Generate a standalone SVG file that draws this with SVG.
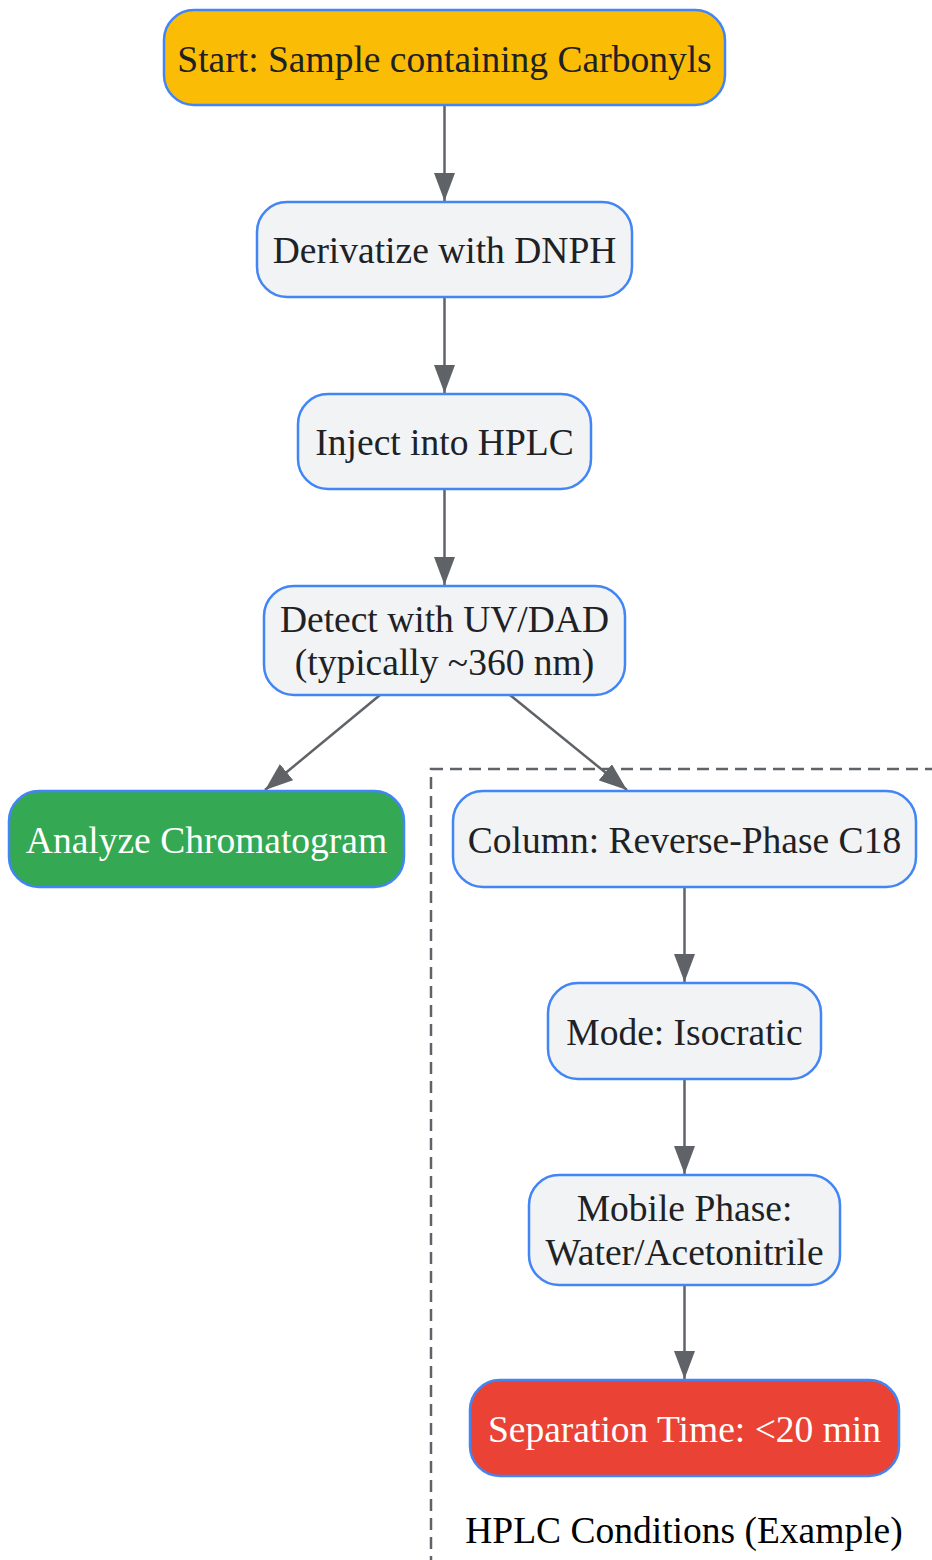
<svg xmlns="http://www.w3.org/2000/svg" width="932" height="1560" viewBox="0 0 932 1560">
<style>
.n{stroke:#4285F4;stroke-width:2.5;}
.g{fill:#F1F3F4;}
.t{font-family:"Liberation Serif",serif;font-size:37.5px;text-anchor:middle;fill:#202124;}
.w{fill:#FFFFFF;}
.e{stroke:#5F6368;stroke-width:2.5;fill:none;marker-end:url(#ah);}
</style>
<defs>
<marker id="ah" viewBox="0 0 28 21" refX="28" refY="10.5" markerWidth="28" markerHeight="21" markerUnits="userSpaceOnUse" orient="auto">
<path d="M0,0 L28,10.5 L0,21 z" fill="#5F6368"/>
</marker>
</defs>
<g id="cluster">
<rect x="431" y="769" width="520" height="820" fill="none" stroke="#5F6368" stroke-width="2.5" stroke-dasharray="12,7"/>
<text class="t" x="684" y="1543" style="fill:#000">HPLC Conditions (Example)</text>
</g>
<g id="edges">
<line class="e" x1="444.5" y1="105" x2="444.5" y2="201"/>
<line class="e" x1="444.5" y1="297" x2="444.5" y2="393"/>
<line class="e" x1="444.5" y1="489" x2="444.5" y2="585"/>
<line class="e" x1="380" y1="695" x2="265" y2="790"/>
<line class="e" x1="510" y1="695" x2="627" y2="790"/>
<line class="e" x1="684.5" y1="887" x2="684.5" y2="982"/>
<line class="e" x1="684.5" y1="1079" x2="684.5" y2="1174"/>
<line class="e" x1="684.5" y1="1285" x2="684.5" y2="1379"/>
</g>
<g id="start">
<rect class="n" x="164" y="10" width="561" height="95" rx="30" fill="#FBBC05"/>
<text class="t" x="444.5" y="72">Start: Sample containing Carbonyls</text>
</g>
<g id="derivatize">
<rect class="n g" x="257" y="202" width="375" height="95" rx="30"/>
<text class="t" x="444.5" y="263">Derivatize with DNPH</text>
</g>
<g id="inject">
<rect class="n g" x="298" y="394" width="293" height="95" rx="30"/>
<text class="t" x="444.5" y="455">Inject into HPLC</text>
</g>
<g id="detect">
<rect class="n g" x="264" y="586" width="361" height="109" rx="30"/>
<text class="t" x="444.5" y="632">Detect with UV/DAD</text>
<text class="t" x="444.5" y="675">(typically ~360 nm)</text>
</g>
<g id="analyze">
<rect class="n" x="9" y="791" width="395" height="96" rx="30" fill="#34A853"/>
<text class="t w" x="206.5" y="853">Analyze Chromatogram</text>
</g>
<g id="column">
<rect class="n g" x="453" y="791" width="463" height="96" rx="30"/>
<text class="t" x="684.5" y="853">Column: Reverse-Phase C18</text>
</g>
<g id="mode">
<rect class="n g" x="548" y="983" width="273" height="96" rx="30"/>
<text class="t" x="684.5" y="1045">Mode: Isocratic</text>
</g>
<g id="mobile">
<rect class="n g" x="529" y="1175" width="311" height="110" rx="30"/>
<text class="t" x="684.5" y="1221">Mobile Phase:</text>
<text class="t" x="684.5" y="1265">Water/Acetonitrile</text>
</g>
<g id="separation">
<rect class="n" x="470" y="1380" width="429" height="96" rx="30" fill="#EA4335"/>
<text class="t w" x="684.5" y="1442">Separation Time: &lt;20 min</text>
</g>
</svg>
